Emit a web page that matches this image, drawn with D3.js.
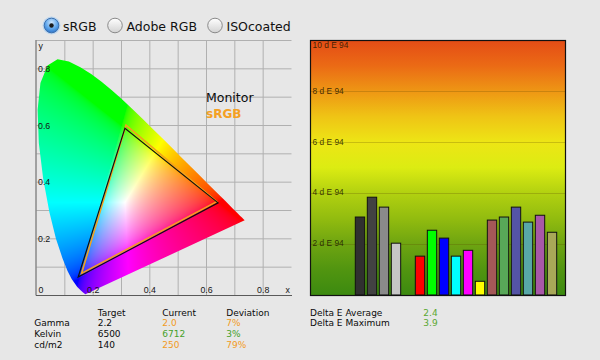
<!DOCTYPE html>
<html><head><meta charset="utf-8">
<script src="https://cdn.jsdelivr.net/npm/d3@7"></script>
<style>
html,body{margin:0;padding:0;background:#e7e7e7;}
svg{display:block;}
</style></head>
<body>
<svg id="c" width="600" height="360"></svg>
<script>
// ---------- data ----------
const profiles = ["sRGB", "Adobe RGB", "ISOcoated"];
const selectedProfile = "sRGB";

// CIE 1931 spectral locus (chromaticity x, y)
const locusX = [0.1741,0.1733,0.1726,0.1714,0.1689,0.1644,0.1566,0.1440,0.1241,0.1096,0.0913,0.0687,0.0454,0.0235,0.0082,0.0039,0.0139,0.0389,0.0743,0.1142,0.1547,0.1929,0.2296,0.2658,0.3016,0.3373,0.3731,0.4087,0.4441,0.4788,0.5125,0.5448,0.5752,0.6029,0.6270,0.6658,0.6915,0.7079,0.7190,0.7260,0.7300,0.7347];
const locusY = [0.0050,0.0048,0.0048,0.0051,0.0069,0.0109,0.0177,0.0297,0.0578,0.0868,0.1327,0.2007,0.2950,0.4127,0.5384,0.6548,0.7502,0.8120,0.8338,0.8262,0.8059,0.7816,0.7543,0.7243,0.6923,0.6589,0.6245,0.5896,0.5547,0.5202,0.4866,0.4544,0.4242,0.3965,0.3725,0.3340,0.3083,0.2920,0.2809,0.2740,0.2700,0.2653];

// gamut triangles (R, G, B primaries)
const targetName = "sRGB";
const targetX = [0.636, 0.316, 0.159];
const targetY = [0.331, 0.601, 0.078];
const monitorName = "Monitor";
const monitorX = [0.641, 0.312, 0.147];
const monitorY = [0.327, 0.590, 0.065];

const xTicks = [0.2, 0.4, 0.6, 0.8];
const yTicks = [0.2, 0.4, 0.6, 0.8];

// Delta E per patch ("gap" is the empty slot between groups)
const patches = ["Gray 1","Gray 2","Gray 3","Gray 4","gap","Red","Green","Blue","Cyan","Magenta","Yellow","Mix 1","Mix 2","Mix 3","Mix 4","Mix 5","Mix 6"];
const deltaE  = [3.05, 3.83, 3.44, 2.02, null, 1.51, 2.53, 2.22, 1.51, 1.74, 0.52, 2.93, 3.05, 3.44, 2.85, 3.12, 2.45];
const deTicks = [2, 4, 6, 8, 10];
const deTickLabels = ["2 d E 94","4 d E 94","6 d E 94","8 d E 94","10 d E 94"];

// table
const tableHeaders = ["Target", "Current", "Deviation"];
const tableRows = ["Gamma", "Kelvin", "cd/m2"];
const targetVals = ["2.2", "6500", "140"];
const currentVals = ["2.0", "6712", "250"];
const deviationVals = ["7%", "3%", "79%"];
const rowStatus = ["warn", "ok", "warn"];
const summaryLabels = ["Delta E Average", "Delta E Maximum"];
const summaryVals = ["2.4", "3.9"];

// ---------- styles ----------
const patchColors = ["#303030","#424242","#8a8a8a","#c6c6c6",null,"#ff0000","#00ff00","#0000ff","#00ffff","#ff00ff","#ffff00","#a45858","#58a858","#5454a6","#58a8a8","#a858a8","#a8a858"];
const orange = "#f29a22", green = "#45a02a";
const statusColor = {warn: orange, ok: green};
const sans = "'DejaVu Sans', sans-serif";
const arial = "'Liberation Sans', Arial, sans-serif";

const svg = d3.select("#c");
const defs = svg.append("defs");

// ---------- radio buttons ----------
const gSel = defs.append("radialGradient").attr("id","rsel").attr("cx","50%").attr("cy","30%").attr("r","70%");
gSel.append("stop").attr("offset","0%").attr("stop-color","#cfe6fb");
gSel.append("stop").attr("offset","60%").attr("stop-color","#5ea6ec");
gSel.append("stop").attr("offset","100%").attr("stop-color","#2e74c8");
const gUn = defs.append("linearGradient").attr("id","run").attr("x1",0).attr("y1",0).attr("x2",0).attr("y2",1);
gUn.append("stop").attr("offset","0%").attr("stop-color","#ffffff");
gUn.append("stop").attr("offset","100%").attr("stop-color","#d2d2d2");

const radioX = [51.5, 115, 215];
profiles.forEach((p, i) => {
  const g = svg.append("g");
  const sel = p === selectedProfile;
  if (sel) g.append("circle").attr("cx", radioX[i]).attr("cy", 25.5).attr("r", 9).attr("fill", "#9cc8f2").attr("opacity", 0.6);
  g.append("circle").attr("cx", radioX[i]).attr("cy", 25.5).attr("r", 7.3)
    .attr("fill", sel ? "url(#rsel)" : "url(#run)")
    .attr("stroke", sel ? "#3b6fae" : "#8a8a8a").attr("stroke-width", 1);
  if (sel) g.append("circle").attr("cx", radioX[i]).attr("cy", 25.5).attr("r", 2.2).attr("fill", "#1a1a1a");
  g.append("text").attr("x", radioX[i] + 11.5).attr("y", 30.5).text(p)
    .attr("font-family", sans).attr("font-size", 12.5).attr("fill", "#111");
});

// ---------- chromaticity diagram ----------
const xS = d3.scaleLinear().domain([0, 0.9]).range([36.5, 291.5]);
const yS = d3.scaleLinear().domain([0, 0.9]).range([295.5, 40.5]);

const cie = svg.append("g");
cie.selectAll(".vg").data(d3.range(1, 9).map(i => i / 10)).join("line")
  .attr("x1", d => xS(d)).attr("x2", d => xS(d)).attr("y1", yS(0.9)).attr("y2", yS(0))
  .attr("stroke", "#b0b0b0").attr("stroke-width", 1);
cie.selectAll(".hg").data(d3.range(1, 10).map(i => i / 10)).join("line")
  .attr("x1", xS(0)).attr("x2", xS(0.9)).attr("y1", d => yS(d)).attr("y2", d => yS(d))
  .attr("stroke", "#b0b0b0").attr("stroke-width", 1);

const locus = locusX.map((x, i) => [x, locusY[i]]);
const locusLine = d3.line().x(d => xS(d[0])).y(d => yS(d[1]));
defs.append("clipPath").attr("id", "horse").append("path").attr("d", locusLine(locus) + "Z");

function lin2s(v){ return v <= 0.0031308 ? 12.92 * v : 1.055 * Math.pow(v, 1 / 2.4) - 0.055; }
const W = 256, H = 256, ox = 36, oy = 40;
const cv = document.createElement("canvas"); cv.width = W; cv.height = H;
const ctx = cv.getContext("2d");
const img = ctx.createImageData(W, H);
for (let j = 0; j < H; j++) {
  for (let i = 0; i < W; i++) {
    const x = xS.invert(ox + i + 0.5);
    let y = yS.invert(oy + j + 0.5);
    if (y < 0.001) y = 0.001;
    const X = x / y, Y = 1, Z = (1 - x - y) / y;
    let r = 3.2406 * X - 1.5372 * Y - 0.4986 * Z;
    let g = -0.9689 * X + 1.8758 * Y + 0.0415 * Z;
    let b = 0.0557 * X - 0.2040 * Y + 1.0570 * Z;
    r = Math.max(r, 0); g = Math.max(g, 0); b = Math.max(b, 0);
    const m = Math.max(r, g, b) || 1;
    const k = (j * W + i) * 4;
    img.data[k] = Math.round(255 * lin2s(r / m));
    img.data[k + 1] = Math.round(255 * lin2s(g / m));
    img.data[k + 2] = Math.round(255 * lin2s(b / m));
    img.data[k + 3] = 255;
  }
}
ctx.putImageData(img, 0, 0);
cie.append("image").attr("x", ox).attr("y", oy).attr("width", W).attr("height", H)
  .attr("href", cv.toDataURL()).attr("clip-path", "url(#horse)").attr("preserveAspectRatio", "none");

cie.append("line").attr("x1", 36).attr("x2", 36).attr("y1", 40).attr("y2", 295.5).attr("stroke", "#5a5a5a");
cie.append("line").attr("x1", 36).attr("x2", 292).attr("y1", 295.5).attr("y2", 295.5).attr("stroke", "#5a5a5a");

const tri = (xs, ys) => d3.line().x(d => xS(d[0])).y(d => yS(d[1]))(xs.map((x, i) => [x, ys[i]])) + "Z";
cie.append("path").attr("d", tri(targetX, targetY)).attr("fill", "none").attr("stroke", "#f3a21d").attr("stroke-width", 1.6);
cie.append("path").attr("d", tri(monitorX, monitorY)).attr("fill", "none").attr("stroke", "#111").attr("stroke-width", 1.2);

const lblCol = "#141414";
cie.selectAll(".yt").data(yTicks).join("text").attr("x", 38).attr("y", d => yS(d) + 3)
  .text(d => d.toFixed(1)).attr("font-family", arial).attr("font-size", 8.8).attr("fill", lblCol);
cie.selectAll(".xt").data(xTicks).join("text").attr("x", d => xS(d)).attr("y", 293)
  .attr("text-anchor", "middle").text(d => d.toFixed(1)).attr("font-family", arial).attr("font-size", 8.8).attr("fill", lblCol);
cie.append("text").attr("x", 38.5).attr("y", 293).text("0").attr("font-family", arial).attr("font-size", 8.8).attr("fill", lblCol);
cie.append("text").attr("x", 38.5).attr("y", 49).text("y").attr("font-family", arial).attr("font-size", 8.8).attr("fill", lblCol);
cie.append("text").attr("x", 285.5).attr("y", 293).text("x").attr("font-family", arial).attr("font-size", 8.8).attr("fill", lblCol);

cie.append("text").attr("x", 206).attr("y", 101.5).text(monitorName).attr("font-family", sans).attr("font-size", 12.5).attr("fill", "#0a0a0a");
cie.append("text").attr("x", 206).attr("y", 117.5).text(targetName).attr("font-family", sans).attr("font-size", 12).attr("font-weight", "bold").attr("fill", "#f4a024");

// ---------- Delta E bar chart ----------
const px0 = 310, px1 = 566, py0 = 40, py1 = 295;
const yD = d3.scaleLinear().domain([0, 10]).range([294.5, 40.5]);
const xB = d3.scaleBand().domain(patches).range([355.3, 556.7]).paddingInner(0.22).paddingOuter(0);

const grad = defs.append("linearGradient").attr("id", "bg").attr("x1", 0).attr("y1", 0).attr("x2", 0).attr("y2", 1);
[["0%","#e44c16"],["10%","#eb6a15"],["20%","#ee9614"],["30%","#efc415"],["40%","#ede515"],["50%","#dcec12"],["60%","#b2d110"],["70%","#92bc0f"],["80%","#6ea411"],["90%","#519510"],["100%","#3c8a10"]]
  .forEach(s => grad.append("stop").attr("offset", s[0]).attr("stop-color", s[1]));

const bc = svg.append("g");
bc.append("rect").attr("x", px0).attr("y", py0).attr("width", px1 - px0).attr("height", py1 - py0).attr("fill", "url(#bg)");
bc.selectAll(".dg").data(deTicks.slice(0, -1)).join("line")
  .attr("x1", px0).attr("x2", px1).attr("y1", d => Math.round(yD(d)) + 0.5).attr("y2", d => Math.round(yD(d)) + 0.5)
  .attr("stroke", "rgba(90,70,0,0.25)").attr("stroke-width", 1);
bc.selectAll(".dl").data(deTicks).join("text")
  .attr("x", 312.5).attr("y", d => Math.max(yD(d) + 2.5, py0 + 8))
  .text((d, i) => deTickLabels[i]).attr("font-family", arial).attr("font-size", 8.4).attr("fill", "rgba(30,22,0,0.85)");

bc.selectAll(".bar").data(patches.map((p, i) => ({p, v: deltaE[i], c: patchColors[i]})).filter(d => d.v != null)).join("rect")
  .attr("x", d => xB(d.p)).attr("width", xB.bandwidth())
  .attr("y", d => yD(d.v)).attr("height", d => yD(0) - yD(d.v) + 0.5)
  .attr("fill", d => d.c).attr("stroke", "#111").attr("stroke-width", 1);

bc.append("rect").attr("x", px0 + 0.5).attr("y", py0 + 0.5).attr("width", px1 - px0 - 1).attr("height", py1 - py0)
  .attr("fill", "none").attr("stroke", "#111").attr("stroke-width", 1.2);

// ---------- table ----------
const tb = svg.append("g").attr("font-family", sans).attr("font-size", 9).attr("fill", "#0a0a0a");
const colX = [97.7, 162.3, 226.3];
tableHeaders.forEach((h, i) => tb.append("text").attr("x", colX[i]).attr("y", 315.5).text(h));
tableRows.forEach((r, i) => {
  const y = 326.3 + i * 10.8;
  tb.append("text").attr("x", 34.3).attr("y", y).text(r);
  tb.append("text").attr("x", colX[0]).attr("y", y).text(targetVals[i]);
  tb.append("text").attr("x", colX[1]).attr("y", y).text(currentVals[i]).attr("fill", statusColor[rowStatus[i]]);
  tb.append("text").attr("x", colX[2]).attr("y", y).text(deviationVals[i]).attr("fill", statusColor[rowStatus[i]]);
});
summaryLabels.forEach((s, i) => {
  const y = 315.5 + i * 10.8;
  tb.append("text").attr("x", 310).attr("y", y).text(s);
  tb.append("text").attr("x", 423.3).attr("y", y).text(summaryVals[i]).attr("fill", "#5aa830");
});
</script>
</body></html>
